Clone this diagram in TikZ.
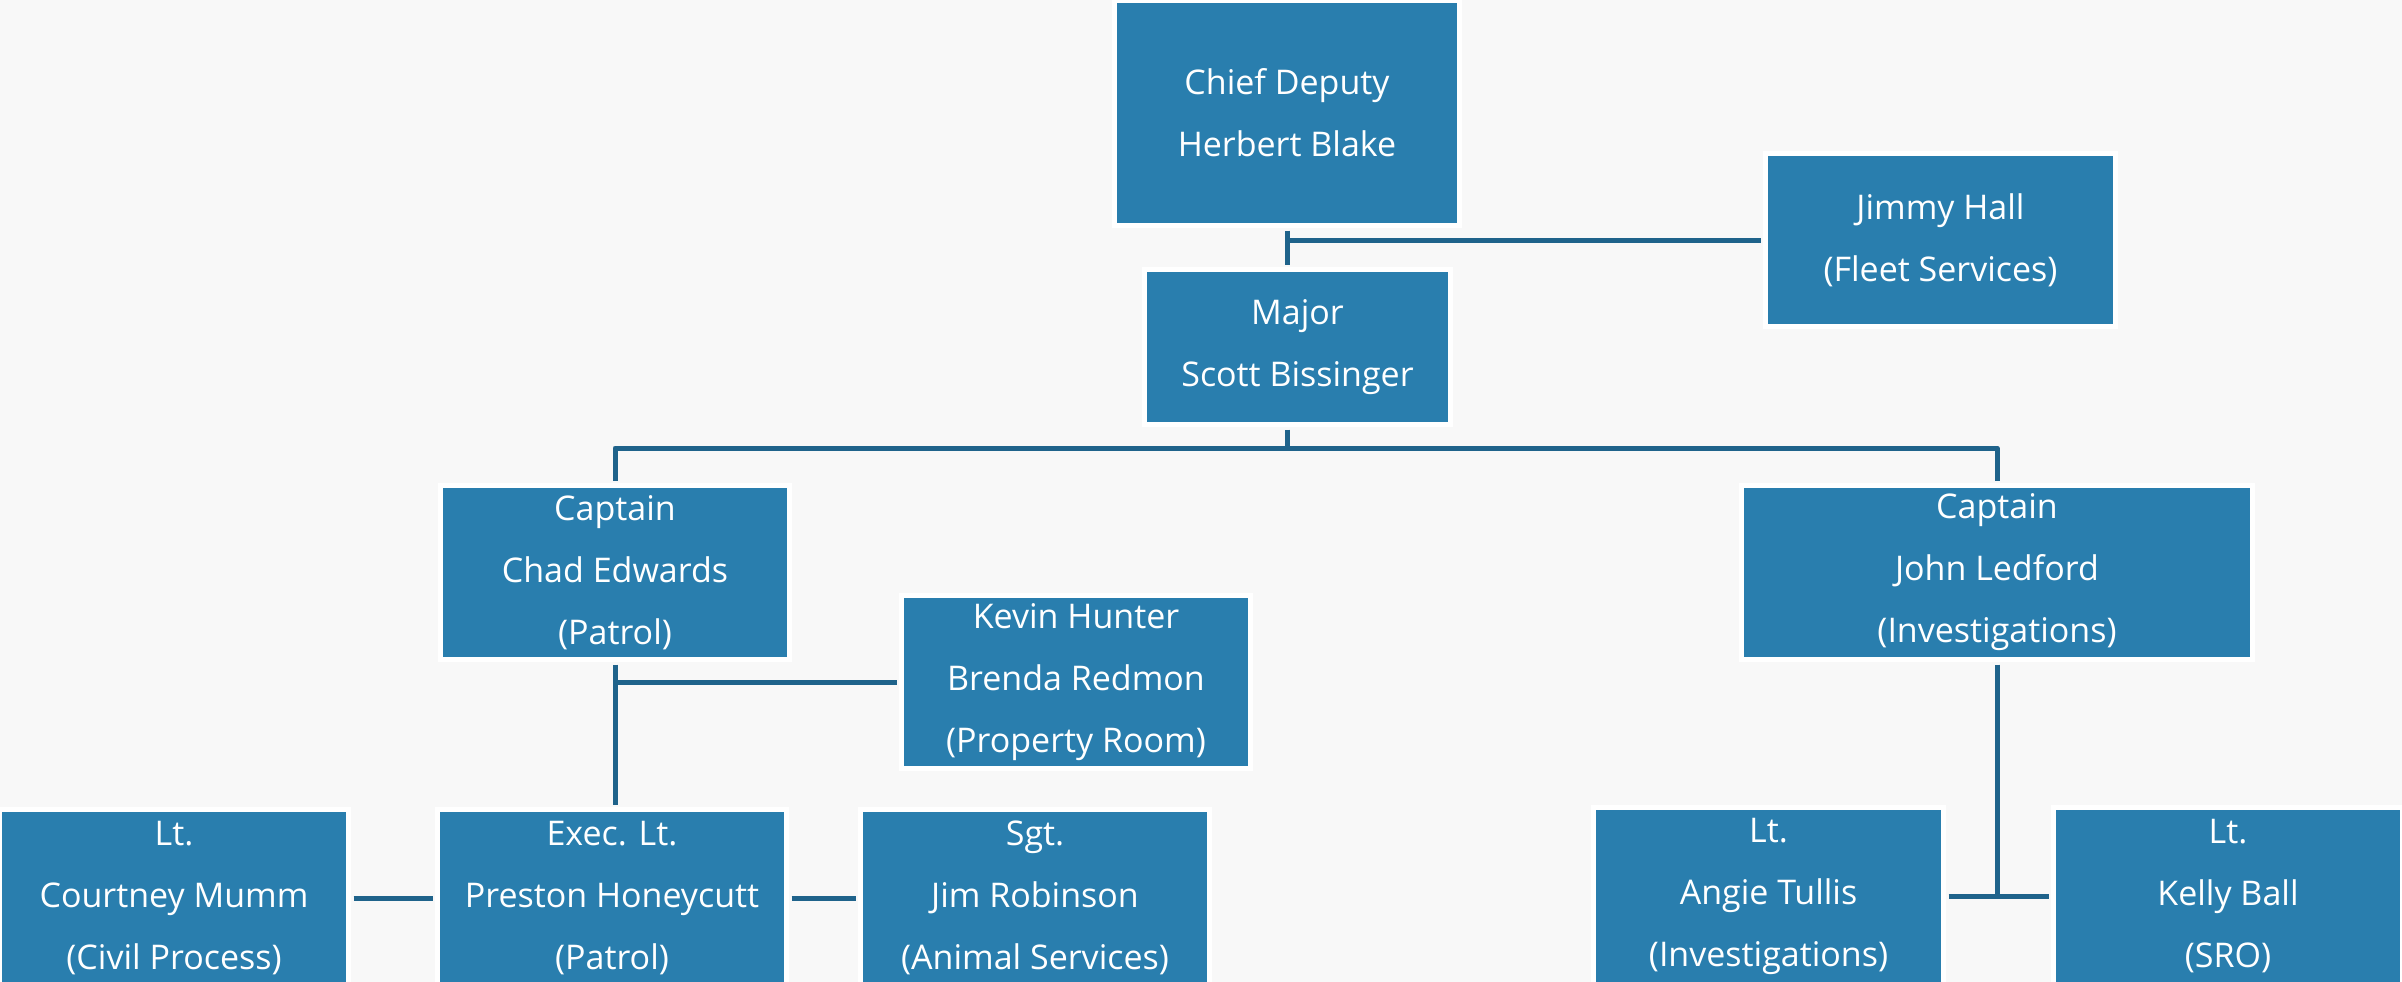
\documentclass[tikz,border=0pt]{standalone}
\usepackage{fontspec}
\setmainfont{Open Sans}
\definecolor{boxblue}{RGB}{41,126,174}
\definecolor{linkblue}{RGB}{31,99,139}
\definecolor{paper}{RGB}{248,248,248}
\tikzset{
  post/.style={fill=boxblue,draw=white,line width=5pt,text=white,align=center,
    inner sep=0pt,minimum width=349,minimum height=174,font=\fontsize{34}{62}\selectfont},
  link/.style={draw=linkblue,line width=5pt,line join=round,shorten <=2.5pt,shorten >=2.5pt}
}
\begin{document}
\begin{tikzpicture}[x=1pt,y=-1pt]
\fill[paper](0,0) rectangle (2402,982);
\useasboundingbox(0,0) rectangle (2402,982);
\node[post,minimum width=345,minimum height=225](chief) at (1287,113){Chief Deputy\\Herbert Blake};
\node[post,minimum width=306,minimum height=155](major) at (1297.5,347){Major\\Scott Bissinger};
\node[post,minimum width=350,minimum height=173](fleet) at (1940.5,240){Jimmy Hall\\(Fleet Services)};
\node[post](capP) at (615,572.5){Captain\\Chad Edwards\\(Patrol)};
\node[post,minimum width=511](capI) at (1997,572.5){Captain\\John Ledford\\(Investigations)};
\node[post,minimum height=173](prop) at (1076,682){Kevin Hunter\\Brenda Redmon\\(Property Room)};
\node[post,minimum height=177](civil) at (174,898){Lt.\\Courtney Mumm\\(Civil Process)};
\node[post,minimum height=177](exec) at (612,898){Exec. Lt.\\Preston Honeycutt\\(Patrol)};
\node[post,minimum height=177](animal) at (1035,898){Sgt.\\Jim Robinson\\(Animal Services)};
\node[post,minimum width=350,minimum height=177](tullis) at (1768.5,896){Lt.\\Angie Tullis\\(Investigations)};
\node[post,minimum height=177](ball) at (2228,896){Lt.\\Kelly Ball\\(SRO)};
\coordinate(bus) at (1287,448);
\draw[link](chief.south)--(chief.south |- major.north);
\draw[link](fleet.west)--(fleet.west -| chief.south);
\draw[link](major.south -| chief.south)--(bus);
\draw[link](capP.north) |- (bus) -| (capI.north);
\draw[link](capP.south)--(capP.south |- exec.north);
\draw[link](prop.west)--(prop.west -| capP.south);
\draw[link](civil.east)--(exec.west);
\draw[link](exec.east)--(animal.west);
\draw[link](capI.south)--(capI.south |- tullis.east);
\draw[link](tullis.east)--(ball.west);
\end{tikzpicture}
\end{document}
